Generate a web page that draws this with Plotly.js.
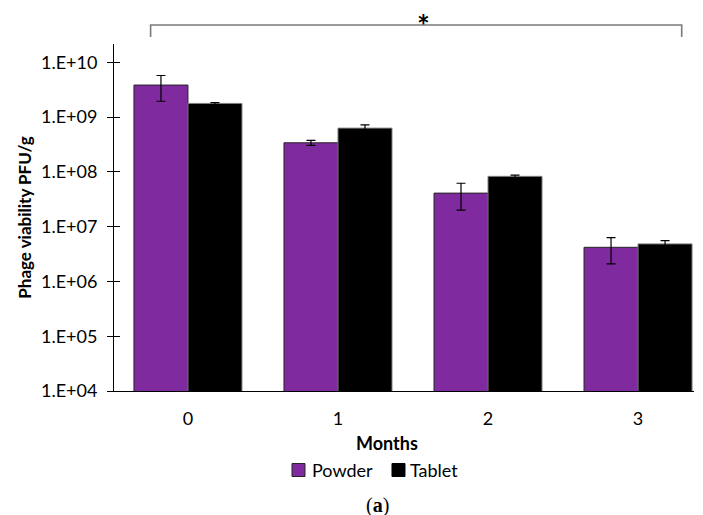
<!DOCTYPE html>
<html>
<head>
<meta charset="utf-8">
<script src="https://cdn.plot.ly/plotly-3.0.1.min.js"></script>
<style>
  html, body { margin: 0; padding: 0; background: #ffffff; }
  #chart { width: 703px; height: 515px; }
</style>
</head>
<body>
<div id="chart"></div>
<script>
// Storage months and phage counts (PFU/g) for the two formulations
const months = ['0', '1', '2', '3'];
const powderValues = [3.85e9, 3.4e8, 4.1e7, 4.2e6];
const powderErrors = [1.9e9, 0.36e8, 2.1e7, 2.1e6];
const tabletValues = [1.78e9, 6.3e8, 8.3e7, 4.85e6];
const tabletErrors = [0.07e9, 0.9e8, 0.4e7, 0.7e6];
const yTickValues = [1e4, 1e5, 1e6, 1e7, 1e8, 1e9, 1e10];
const yTickLabels = ['1.E+04', '1.E+05', '1.E+06', '1.E+07', '1.E+08', '1.E+09', '1.E+10'];
const seriesNames = ['Powder', 'Tablet'];

const FONT = 'Lato, "Open Sans", sans-serif';
const PURPLE = '#7f2b9f';
const PURPLE_EDGE = '#262626';
const BLACK_EDGE = '#808080';

const powder = {
  type: 'bar',
  name: seriesNames[0],
  x: months,
  y: powderValues,
  marker: { color: PURPLE, line: { color: PURPLE_EDGE, width: 1 } },
  error_y: { type: 'data', array: powderErrors, visible: true, color: '#000000', thickness: 1.2, width: 4.5 }
};

const tablet = {
  type: 'bar',
  name: seriesNames[1],
  x: months,
  y: tabletValues,
  marker: { color: '#000000', line: { color: BLACK_EDGE, width: 1 } },
  error_y: { type: 'data', array: tabletErrors, visible: true, color: '#000000', thickness: 1.2, width: 4.5 }
};

// invisible trace that carries the inner half of the crossing y ticks
const tickHelper = {
  type: 'scatter',
  x: [months[0]],
  y: [powderValues[0]],
  yaxis: 'y2',
  mode: 'markers',
  marker: { opacity: 0 },
  showlegend: false,
  hoverinfo: 'skip'
};

const yRange = [4, 10.335];

// compact legend below the axis title: swatches drawn as shapes, names as text
const legendY = -0.2277;
const swatchHalfH = 0.0187;
const legendSwatchX = [0.3069, 0.4793];
const legendTextX = [0.3379, 0.5069];
const legendFill = [PURPLE, '#000000'];
const legendEdge = [PURPLE_EDGE, '#000000'];

const legendShapes = seriesNames.map((name, i) => ({
  type: 'rect',
  xref: 'paper', yref: 'paper',
  x0: legendSwatchX[i], x1: legendSwatchX[i] + 0.0224,
  y0: legendY - swatchHalfH, y1: legendY + swatchHalfH,
  fillcolor: legendFill[i],
  line: { color: legendEdge[i], width: 1 }
}));

const legendTexts = seriesNames.map((name, i) => ({
  text: name,
  xref: 'paper', yref: 'paper',
  x: legendTextX[i], y: legendY,
  xanchor: 'left', yanchor: 'middle',
  showarrow: false,
  font: { family: FONT, size: 18, color: '#000000' }
}));

const layout = {
  width: 703,
  height: 515,
  margin: { l: 114, r: 9, t: 44, b: 124 },
  paper_bgcolor: '#ffffff',
  plot_bgcolor: '#ffffff',
  font: { family: FONT, size: 17, color: '#000000' },
  barmode: 'group',
  bargap: 0.28,
  bargroupgap: 0,
  showlegend: false,
  xaxis: {
    type: 'category',
    range: [-0.493, 3.373],
    showline: true,
    linecolor: '#000000',
    linewidth: 1,
    ticks: '',
    showgrid: false,
    zeroline: false,
    tickfont: { family: FONT, size: 18 },
    ticklabelstandoff: 11
  },
  yaxis: {
    type: 'log',
    range: yRange,
    tickvals: yTickValues,
    ticktext: yTickLabels,
    showline: true,
    linecolor: '#000000',
    linewidth: 1,
    ticks: 'outside',
    ticklen: 6,
    tickcolor: '#000000',
    tickwidth: 1,
    showgrid: false,
    zeroline: false,
    tickfont: { family: FONT, size: 18 },
    ticklabelstandoff: 6,
    title: { text: '<b>Phage viability PFU/g</b>', font: { family: FONT, size: 17 }, standoff: 5 }
  },
  yaxis2: {
    type: 'log',
    range: yRange,
    overlaying: 'y',
    side: 'left',
    tickvals: yTickValues,
    showticklabels: false,
    ticks: 'inside',
    ticklen: 6,
    tickcolor: '#000000',
    tickwidth: 1,
    showline: false,
    showgrid: false,
    zeroline: false
  },
  shapes: [
    // significance bracket spanning all months
    {
      type: 'path',
      xref: 'x', yref: 'paper',
      path: 'M -0.249,1.0202 L -0.249,1.0548 L 3.291,1.0548 L 3.291,1.0202',
      line: { color: '#7a7a7a', width: 1.6 }
    }
  ].concat(legendShapes),
  annotations: [
    {
      text: '<b>*</b>',
      xref: 'x', yref: 'paper',
      x: 1.573, y: 1.0548,
      xanchor: 'center', yanchor: 'middle',
      showarrow: false,
      font: { family: FONT, size: 30, color: '#000000' }
    },
    {
      text: '<b>Months</b>',
      xref: 'paper', yref: 'paper',
      x: 0.4707, y: -0.1499,
      xanchor: 'center', yanchor: 'middle',
      showarrow: false,
      font: { family: FONT, size: 18, color: '#000000' }
    },
    {
      text: '(<b>a</b>)',
      xref: 'paper', yref: 'paper',
      x: 0.455, y: -0.331,
      xanchor: 'center', yanchor: 'middle',
      showarrow: false,
      font: { family: '"Liberation Serif", serif', size: 20, color: '#000000' }
    }
  ].concat(legendTexts)
};

Plotly.newPlot('chart', [powder, tablet, tickHelper], layout, { displayModeBar: false, staticPlot: true });
</script>
</body>
</html>
